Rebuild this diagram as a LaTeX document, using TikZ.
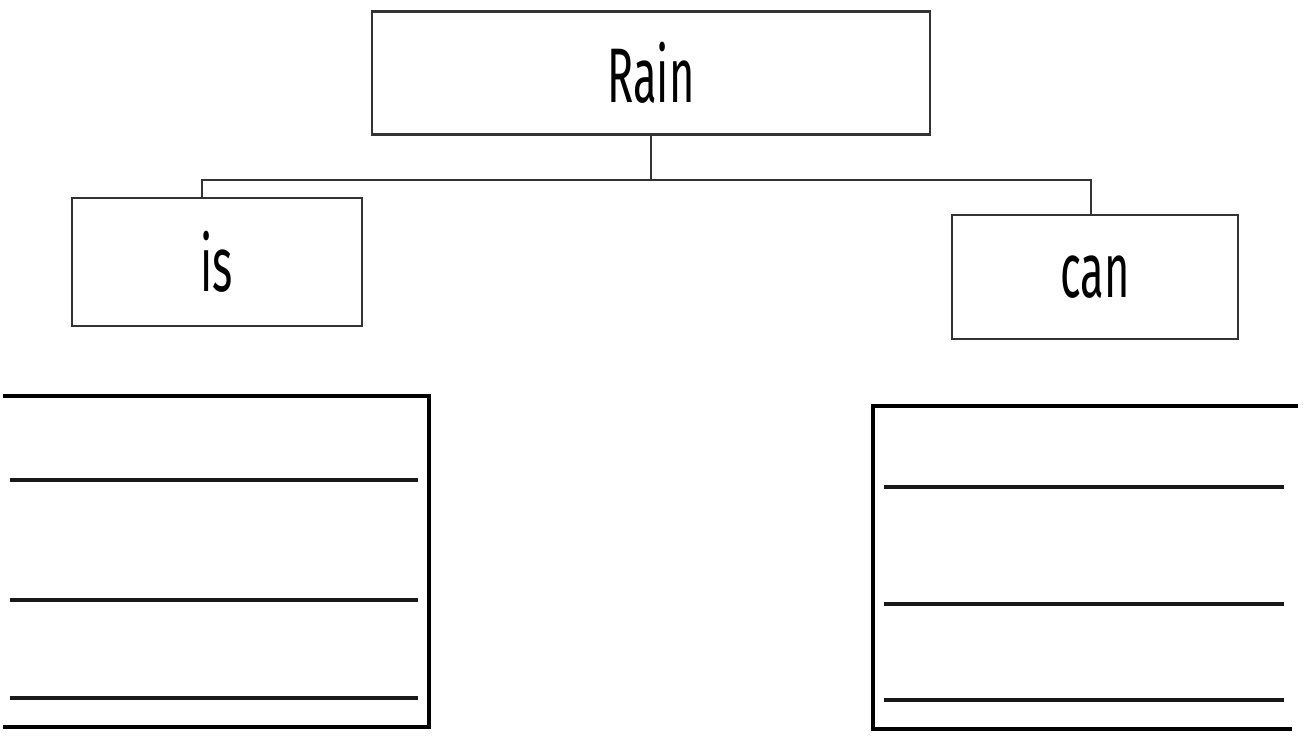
\documentclass[tikz,border=0pt]{standalone}
\usepackage{fontspec}
\newfontfamily\chartfont{Fira Sans}[FakeStretch=0.56]
\usetikzlibrary{positioning}

\begin{document}
\begin{tikzpicture}[x=0.01cm, y=-0.01cm,
    word/.style={draw=black!80, line width=0.6pt, rectangle, inner sep=0pt,
      font=\chartfont\fontsize{22}{26}\selectfont},
    answer/.style={draw=black, line width=1.2pt},
    writeline/.style={draw=black!90, line width=1pt}]
\useasboundingbox (0,0) rectangle (1307,735);
    \node[word, minimum width=5.58cm, minimum height=1.23cm] (rain) at (651,73) {Rain};
    \node[word, minimum width=2.90cm, minimum height=1.28cm] (is) at (217,262) {is};
    \node[word, minimum width=2.86cm, minimum height=1.24cm] (can) at (1095,277) {can};
    \coordinate (hub) at (651,180);
\draw[line width=0.6pt, black!80] (rain) -- (hub);
\draw[line width=0.6pt, black!80] (hub) -| ([xshift=-0.15cm]is.north);
\draw[line width=0.6pt, black!80] (hub) -| ([xshift=-0.04cm]can.north);
% boxes to write in
\draw[answer] (3,396) -- (429,396) -- (429,727) -- (3,727);
\draw[answer] (1298,406) -- (873,406) -- (873,729) -- (1292,729);
\foreach \y in {480,600,698} {\draw[writeline] (10,\y) -- (418,\y);}
\foreach \y in {487,604,700} {\draw[writeline] (884,\y) -- (1284,\y);}
\end{tikzpicture}
\end{document}
